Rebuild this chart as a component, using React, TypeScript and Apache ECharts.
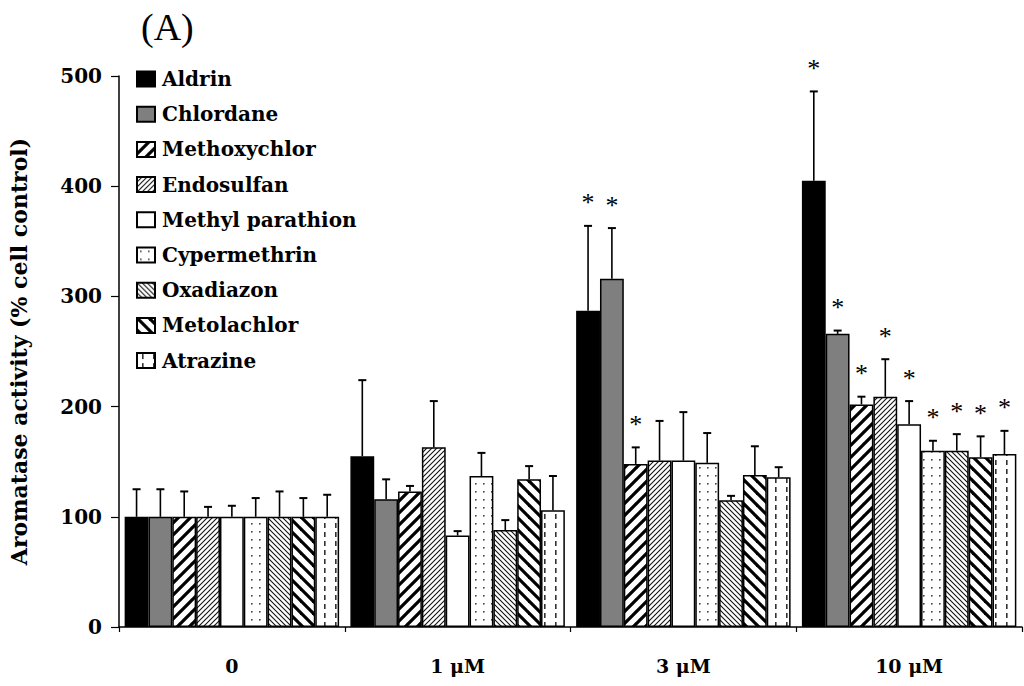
import React, { useEffect, useRef } from "react";
import * as echarts from "echarts";

const doses = ["0", "1 μM", "3 μM", "10 μM"];
const compounds = [
  "Aldrin",
  "Chlordane",
  "Methoxychlor",
  "Endosulfan",
  "Methyl parathion",
  "Cypermethrin",
  "Oxadiazon",
  "Metolachlor",
  "Atrazine",
];
const yTicks = [0, 100, 200, 300, 400, 500];

const dose0Mean = [100, 100, 100, 100, 100, 100, 100, 100, 100];
const dose0Err = [25, 25, 23, 9, 10, 17, 23, 17, 20];
const dose0Star = [0, 0, 0, 0, 0, 0, 0, 0, 0];

const dose1Mean = [155, 116, 123, 163, 83, 137, 88, 134, 106];
const dose1Err = [69, 18, 5, 42, 4, 21, 9, 12, 31];
const dose1Star = [0, 0, 0, 0, 0, 0, 0, 0, 0];

const dose3Mean = [287, 316, 148, 151, 151, 149, 115, 138, 136];
const dose3Err = [77, 46, 15, 36, 44, 27, 4, 26, 9];
const dose3Star = [1, 1, 1, 0, 0, 0, 0, 0, 0];

const dose10Mean = [405, 266, 202, 209, 184, 160, 160, 154, 157];
const dose10Err = [81, 3, 7, 34, 21, 9, 15, 19, 21];
const dose10Star = [1, 1, 1, 1, 1, 1, 1, 1, 1];

const meanGroups = [dose0Mean, dose1Mean, dose3Mean, dose10Mean];
const errGroups = [dose0Err, dose1Err, dose3Err, dose10Err];
const starGroups = [dose0Star, dose1Star, dose3Star, dose10Star];

const FONT = "DejaVu Serif";
const CAT_GAP = 0.05;

function makeTile(w: number, h: number, draw: (ctx: CanvasRenderingContext2D) => void) {
  const c = document.createElement("canvas");
  c.width = w;
  c.height = h;
  const ctx = c.getContext("2d")!;
  ctx.fillStyle = "#ffffff";
  ctx.fillRect(0, 0, w, h);
  draw(ctx);
  return { image: c.toDataURL(), imageWidth: w, imageHeight: h, repeat: "repeat" };
}

function stripes(T: number, lw: number, up: boolean, color: string) {
  return makeTile(T, T, (ctx) => {
    ctx.strokeStyle = color;
    ctx.lineWidth = lw;
    ctx.lineCap = "square";
    for (const o of [-T, 0, T]) {
      ctx.beginPath();
      if (up) {
        ctx.moveTo(o, T);
        ctx.lineTo(o + T, 0);
      } else {
        ctx.moveTo(o, 0);
        ctx.lineTo(o + T, T);
      }
      ctx.stroke();
    }
  });
}

function fillFor(i: number): any {
  switch (i) {
    case 0:
      return "#000000";
    case 1:
      return "#7f7f7f";
    case 2:
      return stripes(12, 3.2, true, "#000");
    case 3:
      return stripes(5, 1.1, true, "#111");
    case 4:
      return "#ffffff";
    case 5:
      return makeTile(8, 8, (ctx) => {
        ctx.fillStyle = "#444";
        ctx.fillRect(3, 3, 1.6, 1.6);
      });
    case 6:
      return stripes(5, 1.1, false, "#111");
    case 7:
      return stripes(12, 3.2, false, "#000");
    default:
      return makeTile(11, 9, (ctx) => {
        ctx.fillStyle = "#333";
        ctx.fillRect(5, 1, 1.6, 5);
      });
  }
}

export default function App() {
  const ref = useRef<HTMLDivElement>(null);

  useEffect(() => {
    if (!ref.current) return;
    const chart = echarts.init(ref.current, null, { renderer: "svg" });

    const barSeries = compounds.map((name, s) => ({
      type: "bar",
      name,
      data: meanGroups.map((g) => g[s]),
      barGap: "0%",
      barCategoryGap: `${CAT_GAP * 100}%`,
      itemStyle: { color: fillFor(s), borderColor: "#000", borderWidth: 1.5 },
      emphasis: { disabled: true },
      z: 2,
    }));

    const errData: number[][] = [];
    meanGroups.forEach((g, c) => {
      g.forEach((m, s) => {
        errData.push([c, s, m, errGroups[c][s], starGroups[c][s]]);
      });
    });

    const errSeries = {
      type: "custom",
      name: "errors",
      data: errData,
      z: 5,
      silent: true,
      itemStyle: { color: "#000" },
      encode: { x: 0, y: 2 },
      renderItem: (params: any, api: any) => {
        const c = api.value(0);
        const s = api.value(1);
        const m = api.value(2);
        const e = api.value(3);
        const star = api.value(4);
        const center = api.coord([c, 0]);
        const band = api.size([1, 0])[0];
        const total = band * (1 - CAT_GAP);
        const bw = total / compounds.length;
        const x = center[0] - total / 2 + (s + 0.5) * bw;
        const yTop = api.coord([c, m])[1];
        const yErr = api.coord([c, m + e])[1];
        const children: any[] = [
          {
            type: "line",
            shape: { x1: x, y1: yTop, x2: x, y2: yErr },
            style: { stroke: "#000", lineWidth: 1.6 },
          },
          {
            type: "line",
            shape: { x1: x - 4, y1: yErr, x2: x + 4, y2: yErr },
            style: { stroke: "#000", lineWidth: 2 },
          },
        ];
        if (star) {
          children.push({
            type: "text",
            x,
            y: yErr - 23,
            style: {
              text: "*",
              align: "center",
              verticalAlign: "middle",
              fontFamily: "Liberation Serif",
              fontSize: 26,
              fill: "#000000",
              stroke: null,
            },
          });
        }
        return { type: "group", children };
      },
    };

    chart.setOption({
      animation: false,
      backgroundColor: "#ffffff",
      grid: { left: 112, right: 2, top: 76, bottom: 59, containLabel: false },
      legend: {
        orient: "vertical",
        left: 136,
        top: 69,
        padding: 0,
        itemWidth: 18,
        itemHeight: 15,
        itemGap: 15.2,
        selectedMode: false,
        data: compounds.map((name) => ({ name, icon: "rect" })),
        textStyle: {
          fontFamily: FONT,
          fontWeight: "bold",
          fontSize: 20,
          lineHeight: 20,
          color: "#000",
          padding: [0, 0, 0, 2],
        },
      },
      graphic: [
        {
          type: "text",
          left: 141,
          top: 8,
          style: {
            text: "(A)",
            fontFamily: "Liberation Serif",
            fontSize: 38,
            fill: "#000",
          },
        },
      ],
      xAxis: {
        type: "category",
        data: doses,
        axisLine: { show: true, lineStyle: { color: "#000", width: 1.5 } },
        axisTick: { show: true, length: 5, lineStyle: { color: "#000", width: 1.2 } },
        axisLabel: {
          color: "#000",
          fontFamily: FONT,
          fontWeight: "bold",
          fontSize: 19,
          margin: 29,
        },
        splitLine: { show: false },
      },
      yAxis: {
        type: "value",
        min: yTicks[0],
        max: yTicks[yTicks.length - 1],
        interval: 100,
        name: "Aromatase activity (% cell control)",
        nameLocation: "middle",
        nameRotate: 90,
        nameGap: 89,
        nameTextStyle: {
          fontFamily: FONT,
          fontWeight: "bold",
          fontSize: 22,
          color: "#000",
        },
        axisLine: { show: true, lineStyle: { color: "#000", width: 1.5 } },
        axisTick: { show: true, length: 8, lineStyle: { color: "#000", width: 1.2 } },
        axisLabel: {
          color: "#000",
          fontFamily: FONT,
          fontWeight: "bold",
          fontSize: 20,
          margin: 17,
        },
        splitLine: { show: false },
      },
      series: [...barSeries, errSeries],
    });

    return () => chart.dispose();
  }, []);

  return (
    <div
      ref={ref}
      style={{ position: "fixed", left: 0, top: 0, width: 1024, height: 686, background: "#fff" }}
    />
  );
}
